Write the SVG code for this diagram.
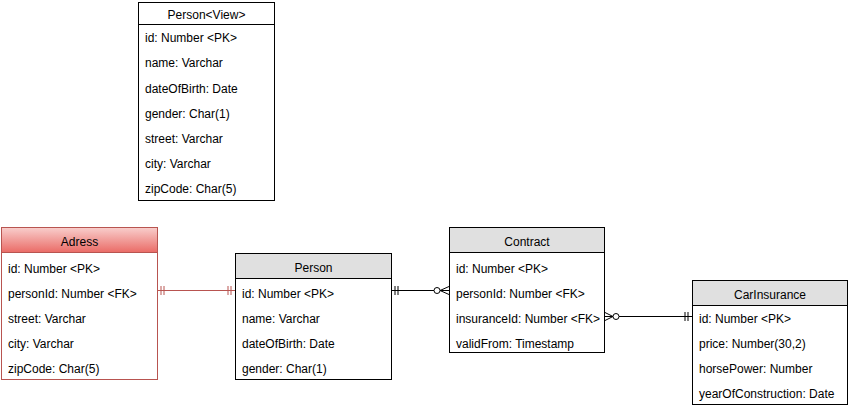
<svg xmlns="http://www.w3.org/2000/svg" width="850" height="409" viewBox="0 0 850 409">
<defs>
<linearGradient id="redGrad" x1="0" y1="0" x2="0" y2="1">
<stop offset="0" stop-color="#f8cecc"/>
<stop offset="1" stop-color="#ea6b66"/>
</linearGradient>
</defs>
<style>
.box{fill:#ffffff;stroke:#000000;stroke-width:1}
.hdr{fill:#e0e0e0;stroke:#000000;stroke-width:1}
.rbox{fill:#ffffff;stroke:#b85450;stroke-width:1}
.rhdr{fill:url(#redGrad);stroke:#b85450;stroke-width:1}
.sep{stroke:#000000;stroke-width:1}
text{font-family:"Liberation Sans",Arial,sans-serif;font-size:12px;fill:#000000}
.t{text-anchor:middle}
.ln{fill:none;stroke:#000000;stroke-width:1}
.rln{fill:none;stroke:#b85450;stroke-width:1}
</style>
<rect width="850" height="409" fill="#ffffff"/>
<g id="connectors">
<g id="adress-person">
<line class="rln" x1="157" y1="290.5" x2="235" y2="290.5"/>
<line class="rln" x1="161" y1="286" x2="161" y2="295"/>
<line class="rln" x1="164" y1="286" x2="164" y2="295"/>
<line class="rln" x1="228" y1="286" x2="228" y2="295"/>
<line class="rln" x1="231" y1="286" x2="231" y2="295"/>
</g>
<g id="person-contract">
<line class="ln" x1="391" y1="290.5" x2="434" y2="290.5"/>
<line class="ln" x1="395" y1="286" x2="395" y2="295"/>
<line class="ln" x1="398" y1="286" x2="398" y2="295"/>
<circle class="ln" cx="437" cy="290.5" r="3"/>
<path class="ln" d="M449 286.5 L440 290.5 L449 294.5 M440 290.5 L449 290.5"/>
</g>
<g id="contract-carinsurance">
<line class="ln" x1="619" y1="316.5" x2="692" y2="316.5"/>
<path class="ln" d="M605 312.5 L613 316.5 L605 320.5 M605 316.5 L613 316.5"/>
<circle class="ln" cx="616" cy="316.5" r="3"/>
<line class="ln" x1="685" y1="312" x2="685" y2="321"/>
<line class="ln" x1="688" y1="312" x2="688" y2="321"/>
</g>
</g>
<g id="person-view">
<rect class="box" x="138.5" y="2.5" width="136" height="198"/>
<line class="sep" x1="138.5" y1="24.5" x2="274.5" y2="24.5"/>
<text class="t" x="206.5" y="19">Person&lt;View&gt;</text>
<text x="145" y="42">id: Number &lt;PK&gt;</text>
<text x="145" y="67">name: Varchar</text>
<text x="145" y="93">dateOfBirth: Date</text>
<text x="145" y="118">gender: Char(1)</text>
<text x="145" y="143">street: Varchar</text>
<text x="145" y="168">city: Varchar</text>
<text x="145" y="193">zipCode: Char(5)</text>
</g>
<g id="adress">
<rect class="rbox" x="1.5" y="227.5" width="156" height="152"/>
<rect class="rhdr" x="1.5" y="227.5" width="156" height="25"/>
<text class="t" x="79.5" y="246">Adress</text>
<text x="8" y="273">id: Number &lt;PK&gt;</text>
<text x="8" y="298">personId: Number &lt;FK&gt;</text>
<text x="8" y="323">street: Varchar</text>
<text x="8" y="348">city: Varchar</text>
<text x="8" y="373">zipCode: Char(5)</text>
</g>
<g id="person">
<rect class="box" x="235.5" y="253.5" width="156" height="126"/>
<rect class="hdr" x="235.5" y="253.5" width="156" height="25"/>
<text class="t" x="313.5" y="272">Person</text>
<text x="242" y="298">id: Number &lt;PK&gt;</text>
<text x="242" y="323">name: Varchar</text>
<text x="242" y="348">dateOfBirth: Date</text>
<text x="242" y="373">gender: Char(1)</text>
</g>
<g id="contract">
<rect class="box" x="449.5" y="227.5" width="155" height="125"/>
<rect class="hdr" x="449.5" y="227.5" width="155" height="25"/>
<text class="t" x="527" y="246">Contract</text>
<text x="456" y="273">id: Number &lt;PK&gt;</text>
<text x="456" y="298">personId: Number &lt;FK&gt;</text>
<text x="456" y="323">insuranceId: Number &lt;FK&gt;</text>
<text x="456" y="348">validFrom: Timestamp</text>
</g>
<g id="carinsurance">
<rect class="box" x="692.5" y="280.5" width="155" height="124"/>
<rect class="hdr" x="692.5" y="280.5" width="155" height="25"/>
<text class="t" x="770" y="299">CarInsurance</text>
<text x="699" y="323">id: Number &lt;PK&gt;</text>
<text x="699" y="348">price: Number(30,2)</text>
<text x="699" y="373">horsePower: Number</text>
<text x="699" y="398">yearOfConstruction: Date</text>
</g>
</svg>
